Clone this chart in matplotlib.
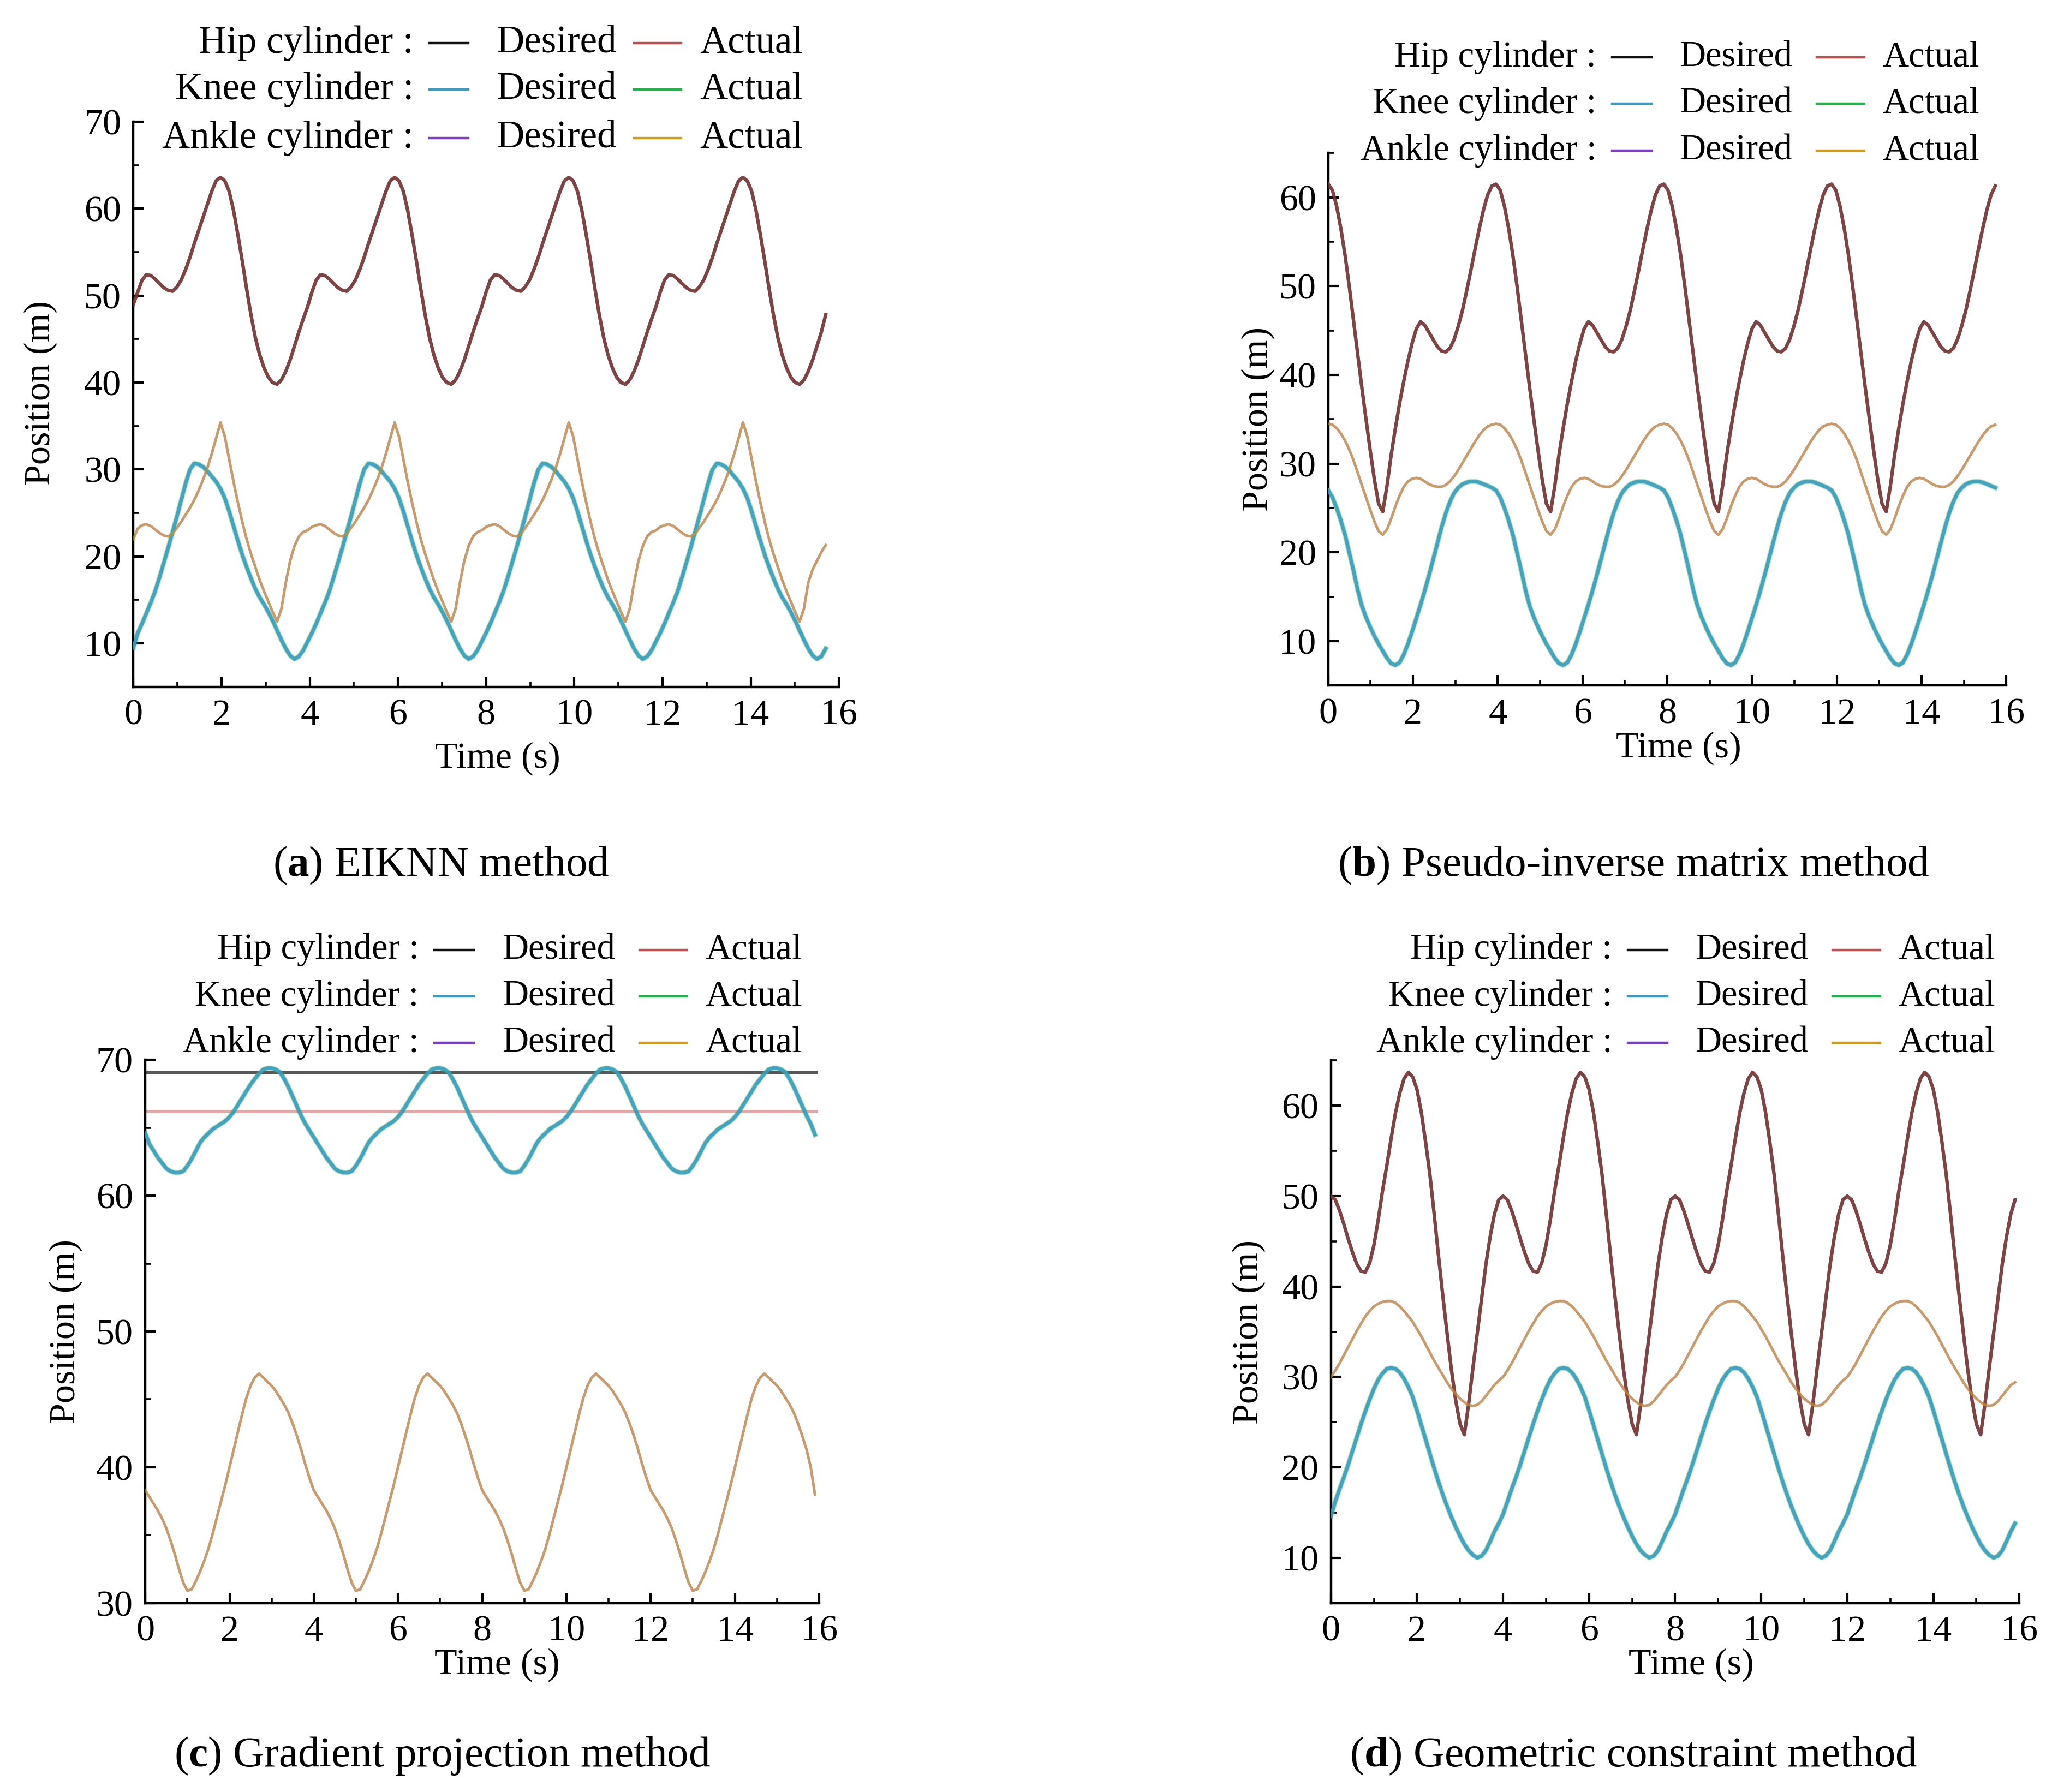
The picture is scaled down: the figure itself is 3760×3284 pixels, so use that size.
import matplotlib.pyplot as plt
import numpy as np
from matplotlib.lines import Line2D

plt.rcParams['font.family'] = 'Liberation Serif'
plt.rcParams['mathtext.fontset'] = 'custom'
plt.rcParams['mathtext.rm'] = 'Liberation Serif'
plt.rcParams['mathtext.bf'] = 'Liberation Serif:bold'

# ---------------- data (positions in m) ----------------
# (a) EIKNN, sampled every 3.95/40 s
hip_a = [49.0, 50.4, 51.8, 52.4, 52.3, 51.9, 51.4, 50.9, 50.6, 50.5, 51.0, 51.8, 53.0, 54.4, 56.0, 57.5, 59.0, 60.5, 62.0, 63.2, 63.6, 63.2, 62.0, 59.8, 57.0, 54.0, 50.8, 47.8, 45.2, 43.2, 41.7, 40.6, 40.0, 39.8, 40.3, 41.3, 42.6, 44.2, 45.8, 47.3,
         48.7, 50.4, 51.8, 52.4, 52.3, 51.9, 51.4, 50.9, 50.6, 50.5, 51.0, 51.8, 53.0, 54.4, 56.0, 57.5, 59.0, 60.5, 62.0, 63.2, 63.6, 63.2, 62.0, 59.8, 57.0, 54.0, 50.8, 47.8, 45.2, 43.2, 41.7, 40.6, 40.0, 39.8, 40.3, 41.3, 42.6, 44.2, 45.8, 47.3,
         48.7, 50.4, 51.8, 52.4, 52.3, 51.9, 51.4, 50.9, 50.6, 50.5, 51.0, 51.8, 53.0, 54.4, 56.0, 57.5, 59.0, 60.5, 62.0, 63.2, 63.6, 63.2, 62.0, 59.8, 57.0, 54.0, 50.8, 47.8, 45.2, 43.2, 41.7, 40.6, 40.0, 39.8, 40.3, 41.3, 42.6, 44.2, 45.8, 47.3,
         48.7, 50.4, 51.8, 52.4, 52.3, 51.9, 51.4, 50.9, 50.6, 50.5, 51.0, 51.8, 53.0, 54.4, 56.0, 57.5, 59.0, 60.5, 62.0, 63.2, 63.6, 63.2, 62.0, 59.8, 57.0, 54.0, 50.8, 47.8, 45.2, 43.2, 41.7, 40.6, 40.0, 39.8, 40.3, 41.3, 42.6, 44.2, 45.8, 47.8]
knee_a = [9.5, 11.2, 12.3, 13.5, 14.7, 16.0, 17.6, 19.3, 21.0, 22.8, 24.6, 26.5, 28.4, 30.0, 30.7, 30.6, 30.3, 29.8, 29.2, 28.6, 27.8, 26.7, 25.2, 23.5, 21.8, 20.2, 18.8, 17.5, 16.3, 15.3, 14.5, 13.6, 12.6, 11.5, 10.4, 9.4, 8.6, 8.2, 8.5, 9.2,
          10.2, 11.2, 12.3, 13.5, 14.7, 16.0, 17.6, 19.3, 21.0, 22.8, 24.6, 26.5, 28.4, 30.0, 30.7, 30.6, 30.3, 29.8, 29.2, 28.6, 27.8, 26.7, 25.2, 23.5, 21.8, 20.2, 18.8, 17.5, 16.3, 15.3, 14.5, 13.6, 12.6, 11.5, 10.4, 9.4, 8.6, 8.2, 8.5, 9.2,
          10.2, 11.2, 12.3, 13.5, 14.7, 16.0, 17.6, 19.3, 21.0, 22.8, 24.6, 26.5, 28.4, 30.0, 30.7, 30.6, 30.3, 29.8, 29.2, 28.6, 27.8, 26.7, 25.2, 23.5, 21.8, 20.2, 18.8, 17.5, 16.3, 15.3, 14.5, 13.6, 12.6, 11.5, 10.4, 9.4, 8.6, 8.2, 8.5, 9.2,
          10.2, 11.2, 12.3, 13.5, 14.7, 16.0, 17.6, 19.3, 21.0, 22.8, 24.6, 26.5, 28.4, 30.0, 30.7, 30.6, 30.3, 29.8, 29.2, 28.6, 27.8, 26.7, 25.2, 23.5, 21.8, 20.2, 18.8, 17.5, 16.3, 15.3, 14.5, 13.6, 12.6, 11.5, 10.4, 9.4, 8.6, 8.2, 8.5, 9.4]
ankle_a = [22.0, 23.2, 23.6, 23.7, 23.5, 23.1, 22.7, 22.4, 22.3, 22.6, 23.3, 24.0, 24.8, 25.6, 26.5, 27.6, 28.8, 30.2, 31.8, 33.6, 35.4, 33.8, 31.2, 28.6, 26.2, 24.0, 22.0, 20.3, 18.8, 17.3, 16.0, 14.8, 13.6, 12.5, 14.0, 17.0, 19.5, 21.2, 22.3, 22.8,
           23.0, 23.4, 23.6, 23.7, 23.5, 23.1, 22.7, 22.4, 22.3, 22.6, 23.3, 24.0, 24.8, 25.6, 26.5, 27.6, 28.8, 30.2, 31.8, 33.6, 35.4, 33.8, 31.2, 28.6, 26.2, 24.0, 22.0, 20.3, 18.8, 17.3, 16.0, 14.8, 13.6, 12.5, 14.0, 17.0, 19.5, 21.2, 22.3, 22.8,
           23.0, 23.4, 23.6, 23.7, 23.5, 23.1, 22.7, 22.4, 22.3, 22.6, 23.3, 24.0, 24.8, 25.6, 26.5, 27.6, 28.8, 30.2, 31.8, 33.6, 35.4, 33.8, 31.2, 28.6, 26.2, 24.0, 22.0, 20.3, 18.8, 17.3, 16.0, 14.8, 13.6, 12.5, 14.0, 17.0, 19.5, 21.2, 22.3, 22.8,
           23.0, 23.4, 23.6, 23.7, 23.5, 23.1, 22.7, 22.4, 22.3, 22.6, 23.3, 24.0, 24.8, 25.6, 26.5, 27.6, 28.8, 30.2, 31.8, 33.6, 35.4, 33.8, 31.2, 28.6, 26.2, 24.0, 22.0, 20.3, 18.8, 17.3, 16.0, 14.8, 13.6, 12.5, 14.0, 17.0, 18.5, 19.5, 20.5, 21.3]

# (b) pseudo-inverse matrix, sampled every 3.96/40 s
hip_b = [61.5, 60.8, 59.0, 56.5, 53.5, 50.0, 46.2, 42.4, 38.6, 35.0, 31.5, 28.2, 25.5, 24.6, 27.5, 31.0, 34.0, 36.8, 39.3, 41.6, 43.6, 45.2, 46.0, 45.6, 44.8, 44.0, 43.2, 42.7, 42.6, 43.0, 44.0, 45.5, 47.3, 49.5, 51.8, 54.2, 56.5, 58.6, 60.3, 61.3,
         61.5, 60.8, 59.0, 56.5, 53.5, 50.0, 46.2, 42.4, 38.6, 35.0, 31.5, 28.2, 25.5, 24.6, 27.5, 31.0, 34.0, 36.8, 39.3, 41.6, 43.6, 45.2, 46.0, 45.6, 44.8, 44.0, 43.2, 42.7, 42.6, 43.0, 44.0, 45.5, 47.3, 49.5, 51.8, 54.2, 56.5, 58.6, 60.3, 61.3,
         61.5, 60.8, 59.0, 56.5, 53.5, 50.0, 46.2, 42.4, 38.6, 35.0, 31.5, 28.2, 25.5, 24.6, 27.5, 31.0, 34.0, 36.8, 39.3, 41.6, 43.6, 45.2, 46.0, 45.6, 44.8, 44.0, 43.2, 42.7, 42.6, 43.0, 44.0, 45.5, 47.3, 49.5, 51.8, 54.2, 56.5, 58.6, 60.3, 61.3,
         61.5, 60.8, 59.0, 56.5, 53.5, 50.0, 46.2, 42.4, 38.6, 35.0, 31.5, 28.2, 25.5, 24.6, 27.5, 31.0, 34.0, 36.8, 39.3, 41.6, 43.6, 45.2, 46.0, 45.6, 44.8, 44.0, 43.2, 42.7, 42.6, 43.0, 44.0, 45.5, 47.3, 49.5, 51.8, 54.2, 56.5, 58.6, 60.3, 61.3]
knee_b = [27.0, 26.2, 25.0, 23.6, 22.0, 20.0, 18.0, 15.8, 14.0, 12.7, 11.6, 10.6, 9.7, 8.9, 8.1, 7.5, 7.3, 7.6, 8.5, 9.7, 11.1, 12.6, 14.1, 15.7, 17.4, 19.2, 21.0, 22.8, 24.4, 25.7, 26.7, 27.3, 27.7, 27.9, 28.0, 28.0, 27.9, 27.7, 27.5, 27.3,
          27.0, 26.2, 25.0, 23.6, 22.0, 20.0, 18.0, 15.8, 14.0, 12.7, 11.6, 10.6, 9.7, 8.9, 8.1, 7.5, 7.3, 7.6, 8.5, 9.7, 11.1, 12.6, 14.1, 15.7, 17.4, 19.2, 21.0, 22.8, 24.4, 25.7, 26.7, 27.3, 27.7, 27.9, 28.0, 28.0, 27.9, 27.7, 27.5, 27.3,
          27.0, 26.2, 25.0, 23.6, 22.0, 20.0, 18.0, 15.8, 14.0, 12.7, 11.6, 10.6, 9.7, 8.9, 8.1, 7.5, 7.3, 7.6, 8.5, 9.7, 11.1, 12.6, 14.1, 15.7, 17.4, 19.2, 21.0, 22.8, 24.4, 25.7, 26.7, 27.3, 27.7, 27.9, 28.0, 28.0, 27.9, 27.7, 27.5, 27.3,
          27.0, 26.2, 25.0, 23.6, 22.0, 20.0, 18.0, 15.8, 14.0, 12.7, 11.6, 10.6, 9.7, 8.9, 8.1, 7.5, 7.3, 7.6, 8.5, 9.7, 11.1, 12.6, 14.1, 15.7, 17.4, 19.2, 21.0, 22.8, 24.4, 25.7, 26.7, 27.3, 27.7, 27.9, 28.0, 28.0, 27.9, 27.7, 27.5, 27.3]
ankle_b = [34.5, 34.4, 34.0, 33.4, 32.6, 31.6, 30.4, 29.0, 27.6, 26.2, 24.8, 23.5, 22.4, 22.0, 22.6, 23.8, 25.2, 26.4, 27.4, 28.0, 28.3, 28.4, 28.3, 28.0, 27.7, 27.5, 27.4, 27.4, 27.6, 28.0, 28.6, 29.3, 30.1, 30.9, 31.7, 32.5, 33.2, 33.8, 34.2, 34.4,
           34.5, 34.4, 34.0, 33.4, 32.6, 31.6, 30.4, 29.0, 27.6, 26.2, 24.8, 23.5, 22.4, 22.0, 22.6, 23.8, 25.2, 26.4, 27.4, 28.0, 28.3, 28.4, 28.3, 28.0, 27.7, 27.5, 27.4, 27.4, 27.6, 28.0, 28.6, 29.3, 30.1, 30.9, 31.7, 32.5, 33.2, 33.8, 34.2, 34.4,
           34.5, 34.4, 34.0, 33.4, 32.6, 31.6, 30.4, 29.0, 27.6, 26.2, 24.8, 23.5, 22.4, 22.0, 22.6, 23.8, 25.2, 26.4, 27.4, 28.0, 28.3, 28.4, 28.3, 28.0, 27.7, 27.5, 27.4, 27.4, 27.6, 28.0, 28.6, 29.3, 30.1, 30.9, 31.7, 32.5, 33.2, 33.8, 34.2, 34.4,
           34.5, 34.4, 34.0, 33.4, 32.6, 31.6, 30.4, 29.0, 27.6, 26.2, 24.8, 23.5, 22.4, 22.0, 22.6, 23.8, 25.2, 26.4, 27.4, 28.0, 28.3, 28.4, 28.3, 28.0, 27.7, 27.5, 27.4, 27.4, 27.6, 28.0, 28.6, 29.3, 30.1, 30.9, 31.7, 32.5, 33.2, 33.8, 34.2, 34.4]

# (c) gradient projection, sampled every 0.1 s
hip_c_desired = [69.1, 69.1]
hip_c_actual = [66.25, 66.25]
hip_c_time = [0.0, 15.93]
knee_c = [64.6, 63.8, 63.3, 62.8, 62.4, 62.0, 61.8, 61.7, 61.7, 61.8, 62.2, 62.7, 63.3, 63.9, 64.3, 64.6, 64.9, 65.1, 65.3, 65.5, 65.8, 66.2, 66.7, 67.2, 67.7, 68.2, 68.6, 69.0, 69.3, 69.4, 69.4, 69.3, 69.1, 68.6, 68.0, 67.3, 66.6, 65.9, 65.3, 64.8,
          64.3, 63.8, 63.3, 62.8, 62.4, 62.0, 61.8, 61.7, 61.7, 61.8, 62.2, 62.7, 63.3, 63.9, 64.3, 64.6, 64.9, 65.1, 65.3, 65.5, 65.8, 66.2, 66.7, 67.2, 67.7, 68.2, 68.6, 69.0, 69.3, 69.4, 69.4, 69.3, 69.1, 68.6, 68.0, 67.3, 66.6, 65.9, 65.3, 64.8,
          64.3, 63.8, 63.3, 62.8, 62.4, 62.0, 61.8, 61.7, 61.7, 61.8, 62.2, 62.7, 63.3, 63.9, 64.3, 64.6, 64.9, 65.1, 65.3, 65.5, 65.8, 66.2, 66.7, 67.2, 67.7, 68.2, 68.6, 69.0, 69.3, 69.4, 69.4, 69.3, 69.1, 68.6, 68.0, 67.3, 66.6, 65.9, 65.3, 64.8,
          64.3, 63.8, 63.3, 62.8, 62.4, 62.0, 61.8, 61.7, 61.7, 61.8, 62.2, 62.7, 63.3, 63.9, 64.3, 64.6, 64.9, 65.1, 65.3, 65.5, 65.8, 66.2, 66.7, 67.2, 67.7, 68.2, 68.6, 69.0, 69.3, 69.4, 69.4, 69.3, 69.1, 68.6, 68.0, 67.3, 66.6, 65.9, 65.3, 64.5]
ankle_c = [38.3, 37.8, 37.3, 36.8, 36.2, 35.5, 34.6, 33.6, 32.5, 31.5, 30.9, 31.0, 31.6, 32.3, 33.1, 34.0, 35.1, 36.3, 37.5, 38.7, 40.0, 41.3, 42.6, 43.9, 45.1, 46.0, 46.6, 46.9, 46.6, 46.3, 46.0, 45.6, 45.1, 44.6, 44.0, 43.2, 42.3, 41.3, 40.2, 39.2,
           38.3, 37.8, 37.3, 36.8, 36.2, 35.5, 34.6, 33.6, 32.5, 31.5, 30.9, 31.0, 31.6, 32.3, 33.1, 34.0, 35.1, 36.3, 37.5, 38.7, 40.0, 41.3, 42.6, 43.9, 45.1, 46.0, 46.6, 46.9, 46.6, 46.3, 46.0, 45.6, 45.1, 44.6, 44.0, 43.2, 42.3, 41.3, 40.2, 39.2,
           38.3, 37.8, 37.3, 36.8, 36.2, 35.5, 34.6, 33.6, 32.5, 31.5, 30.9, 31.0, 31.6, 32.3, 33.1, 34.0, 35.1, 36.3, 37.5, 38.7, 40.0, 41.3, 42.6, 43.9, 45.1, 46.0, 46.6, 46.9, 46.6, 46.3, 46.0, 45.6, 45.1, 44.6, 44.0, 43.2, 42.3, 41.3, 40.2, 39.2,
           38.3, 37.8, 37.3, 36.8, 36.2, 35.5, 34.6, 33.6, 32.5, 31.5, 30.9, 31.0, 31.6, 32.3, 33.1, 34.0, 35.1, 36.3, 37.5, 38.7, 40.0, 41.3, 42.6, 43.9, 45.1, 46.0, 46.6, 46.9, 46.6, 46.3, 46.0, 45.6, 45.1, 44.6, 44.0, 43.2, 42.3, 41.3, 40.0, 38.0]

# (d) geometric constraint, sampled every 0.1 s
hip_d = [50.0, 49.6, 48.4, 46.9, 45.3, 43.8, 42.5, 41.7, 41.6, 42.6, 44.6, 47.4, 50.6, 53.4, 56.4, 59.2, 61.4, 63.0, 63.7, 63.2, 61.8, 59.3, 56.0, 52.4, 48.0, 43.4, 39.0, 34.8, 30.8, 27.4, 24.8, 23.6, 27.0, 31.0, 34.8, 38.6, 42.4, 45.5, 48.0, 49.6,
         50.0, 49.6, 48.4, 46.9, 45.3, 43.8, 42.5, 41.7, 41.6, 42.6, 44.6, 47.4, 50.6, 53.4, 56.4, 59.2, 61.4, 63.0, 63.7, 63.2, 61.8, 59.3, 56.0, 52.4, 48.0, 43.4, 39.0, 34.8, 30.8, 27.4, 24.8, 23.6, 27.0, 31.0, 34.8, 38.6, 42.4, 45.5, 48.0, 49.6,
         50.0, 49.6, 48.4, 46.9, 45.3, 43.8, 42.5, 41.7, 41.6, 42.6, 44.6, 47.4, 50.6, 53.4, 56.4, 59.2, 61.4, 63.0, 63.7, 63.2, 61.8, 59.3, 56.0, 52.4, 48.0, 43.4, 39.0, 34.8, 30.8, 27.4, 24.8, 23.6, 27.0, 31.0, 34.8, 38.6, 42.4, 45.5, 48.0, 49.6,
         50.0, 49.6, 48.4, 46.9, 45.3, 43.8, 42.5, 41.7, 41.6, 42.6, 44.6, 47.4, 50.6, 53.4, 56.4, 59.2, 61.4, 63.0, 63.7, 63.2, 61.8, 59.3, 56.0, 52.4, 48.0, 43.4, 39.0, 34.8, 30.8, 27.4, 24.8, 23.6, 27.0, 31.0, 34.8, 38.6, 42.4, 45.5, 48.0, 49.6]
knee_d = [14.6, 16.2, 17.6, 18.9, 20.3, 21.8, 23.3, 24.8, 26.2, 27.5, 28.7, 29.7, 30.4, 30.9, 31.0, 30.9, 30.5, 29.8, 28.9, 27.8, 26.3, 24.7, 23.1, 21.5, 19.9, 18.4, 17.0, 15.7, 14.5, 13.4, 12.4, 11.5, 10.8, 10.3, 10.0, 10.2, 10.8, 11.8, 12.9, 13.8,
          14.8, 16.2, 17.6, 18.9, 20.3, 21.8, 23.3, 24.8, 26.2, 27.5, 28.7, 29.7, 30.4, 30.9, 31.0, 30.9, 30.5, 29.8, 28.9, 27.8, 26.3, 24.7, 23.1, 21.5, 19.9, 18.4, 17.0, 15.7, 14.5, 13.4, 12.4, 11.5, 10.8, 10.3, 10.0, 10.2, 10.8, 11.8, 12.9, 13.8,
          14.8, 16.2, 17.6, 18.9, 20.3, 21.8, 23.3, 24.8, 26.2, 27.5, 28.7, 29.7, 30.4, 30.9, 31.0, 30.9, 30.5, 29.8, 28.9, 27.8, 26.3, 24.7, 23.1, 21.5, 19.9, 18.4, 17.0, 15.7, 14.5, 13.4, 12.4, 11.5, 10.8, 10.3, 10.0, 10.2, 10.8, 11.8, 12.9, 13.8,
          14.8, 16.2, 17.6, 18.9, 20.3, 21.8, 23.3, 24.8, 26.2, 27.5, 28.7, 29.7, 30.4, 30.9, 31.0, 30.9, 30.5, 29.8, 28.9, 27.8, 26.3, 24.7, 23.1, 21.5, 19.9, 18.4, 17.0, 15.7, 14.5, 13.4, 12.4, 11.5, 10.8, 10.3, 10.0, 10.2, 10.8, 11.8, 12.9, 13.8]
ankle_d = [30.0, 30.7, 31.5, 32.4, 33.3, 34.2, 35.1, 35.9, 36.7, 37.3, 37.8, 38.1, 38.3, 38.4, 38.4, 38.2, 37.8, 37.3, 36.7, 36.1, 35.3, 34.5, 33.6, 32.7, 31.8, 31.0, 30.2, 29.4, 28.7, 28.1, 27.6, 27.2, 26.9, 26.8, 26.9, 27.3, 27.9, 28.5, 29.1, 29.6,
           30.0, 30.7, 31.5, 32.4, 33.3, 34.2, 35.1, 35.9, 36.7, 37.3, 37.8, 38.1, 38.3, 38.4, 38.4, 38.2, 37.8, 37.3, 36.7, 36.1, 35.3, 34.5, 33.6, 32.7, 31.8, 31.0, 30.2, 29.4, 28.7, 28.1, 27.6, 27.2, 26.9, 26.8, 26.9, 27.3, 27.9, 28.5, 29.1, 29.6,
           30.0, 30.7, 31.5, 32.4, 33.3, 34.2, 35.1, 35.9, 36.7, 37.3, 37.8, 38.1, 38.3, 38.4, 38.4, 38.2, 37.8, 37.3, 36.7, 36.1, 35.3, 34.5, 33.6, 32.7, 31.8, 31.0, 30.2, 29.4, 28.7, 28.1, 27.6, 27.2, 26.9, 26.8, 26.9, 27.3, 27.9, 28.5, 29.1, 29.6,
           30.0, 30.7, 31.5, 32.4, 33.3, 34.2, 35.1, 35.9, 36.7, 37.3, 37.8, 38.1, 38.3, 38.4, 38.4, 38.2, 37.8, 37.3, 36.7, 36.1, 35.3, 34.5, 33.6, 32.7, 31.8, 31.0, 30.2, 29.4, 28.7, 28.1, 27.6, 27.2, 26.9, 26.8, 26.9, 27.3, 27.9, 28.5, 29.1, 29.4]

sample_step = {'a': 3.95 / 40, 'b': 3.96 / 40, 'c': 0.1, 'd': 0.1}

cylinders = ['Hip cylinder', 'Knee cylinder', 'Ankle cylinder']
desired_colors = ['#111111', '#3a9cc2', '#7d3cc8']
actual_colors = ['#c0504d', '#1fb34c', '#d39b17']
captions = {'a': 'EIKNN method', 'b': 'Pseudo-inverse matrix method',
            'c': 'Gradient projection method', 'd': 'Geometric constraint method'}

FS = 24.5

fig = plt.figure(figsize=(18.8, 16.42), dpi=200)


def style_axes(ax, ylim, yticks):
    ax.set_xlim(0, 16)
    ax.set_ylim(*ylim)
    ax.set_xticks(np.arange(0, 17, 2))
    ax.set_xticks(np.arange(0, 17, 1), minor=True)
    ax.set_yticks(yticks)
    ax.set_yticks(np.arange(ylim[0], ylim[1] + 0.1, 5), minor=True)
    for s in ['top', 'right']:
        ax.spines[s].set_visible(False)
    for s in ['left', 'bottom']:
        ax.spines[s].set_linewidth(1.6)
    ax.tick_params(which='major', direction='in', length=7, width=1.5,
                   labelsize=FS, pad=8)
    ax.tick_params(which='minor', direction='in', length=3.5, width=1.3)
    ax.set_xlabel('Time (s)', fontsize=FS)
    ax.set_ylabel('Position (m)', fontsize=FS)


# how the desired and actual traces blend for each cylinder
blend = [  # (desired lw, desired alpha, actual lw, actual alpha, actual on top)
    (2.2, 0.85, 2.2, 0.55, True),
    (2.4, 0.9, 3.4, 0.35, False),
    (1.7, 0.5, 1.7, 0.6, True),
]


def draw_series(ax, t, values, k):
    dlw, dal, alw, aal, act_top = blend[k]
    zd, za = (2, 3) if act_top else (3, 2)
    ax.plot(t, values, color=desired_colors[k], lw=dlw, alpha=dal, zorder=zd,
            solid_joinstyle='round')
    ax.plot(t, values, color=actual_colors[k], lw=alw, alpha=aal, zorder=za,
            solid_joinstyle='round')


def add_legend(x_right, rows_y, fs):
    for k, y in enumerate(rows_y):
        fig.text(x_right, y, cylinders[k] + ' :', ha='right', va='center',
                 fontsize=fs)
        fig.add_artist(Line2D([x_right + 0.0077, x_right + 0.0268], [y, y],
                              color=desired_colors[k], lw=1.6,
                              transform=fig.transFigure))
        fig.text(x_right + 0.0405, y, 'Desired', ha='left', va='center',
                 fontsize=fs)
        fig.add_artist(Line2D([x_right + 0.1075, x_right + 0.1305], [y, y],
                              color=actual_colors[k], lw=1.6,
                              transform=fig.transFigure))
        fig.text(x_right + 0.1395, y, 'Actual', ha='left', va='center',
                 fontsize=fs)


# panel a
ax = fig.add_axes([0.065, 0.6167, 0.3438, 0.3154])
draw_series(ax, np.arange(len(hip_a)) * sample_step['a'], hip_a, 0)
draw_series(ax, np.arange(len(knee_a)) * sample_step['a'], knee_a, 1)
draw_series(ax, np.arange(len(ankle_a)) * sample_step['a'], ankle_a, 2)
style_axes(ax, (5, 70), np.arange(10, 71, 10))
ax.yaxis.set_label_coords(-0.108, 0.52)
ax.xaxis.set_label_coords(0.516, -0.097)
add_legend(0.2015, [0.976, 0.950, 0.923], 25.5)

# panel b
ax = fig.add_axes([0.6473, 0.6174, 0.3304, 0.2972])
draw_series(ax, np.arange(len(hip_b)) * sample_step['b'], hip_b, 0)
draw_series(ax, np.arange(len(knee_b)) * sample_step['b'], knee_b, 1)
draw_series(ax, np.arange(len(ankle_b)) * sample_step['b'], ankle_b, 2)
style_axes(ax, (5, 65), np.arange(10, 61, 10))
ax.yaxis.set_label_coords(-0.079, 0.5)
ax.xaxis.set_label_coords(0.517, -0.086)
add_legend(0.778, [0.968, 0.942, 0.916], 24)

# panel c
ax = fig.add_axes([0.0708, 0.1055, 0.3284, 0.3030])
ax.plot(hip_c_time, hip_c_desired, color=desired_colors[0], lw=1.8, alpha=0.7)
ax.plot(hip_c_time, hip_c_actual, color=actual_colors[0], lw=1.8, alpha=0.5)
draw_series(ax, np.arange(len(knee_c)) * sample_step['c'], knee_c, 1)
draw_series(ax, np.arange(len(ankle_c)) * sample_step['c'], ankle_c, 2)
style_axes(ax, (30, 70), np.arange(30, 71, 10))
ax.yaxis.set_label_coords(-0.093, 0.5)
ax.xaxis.set_label_coords(0.522, -0.083)
add_legend(0.2041, [0.470, 0.444, 0.418], 24)

# panel d
ax = fig.add_axes([0.6486, 0.1055, 0.3355, 0.3027])
draw_series(ax, np.arange(len(hip_d)) * sample_step['d'], hip_d, 0)
draw_series(ax, np.arange(len(knee_d)) * sample_step['d'], knee_d, 1)
draw_series(ax, np.arange(len(ankle_d)) * sample_step['d'], ankle_d, 2)
style_axes(ax, (5, 65), np.arange(10, 61, 10))
ax.yaxis.set_label_coords(-0.095, 0.5)
ax.xaxis.set_label_coords(0.523, -0.083)
add_legend(0.7857, [0.470, 0.444, 0.418], 24)

# sub-captions
for key, (x, y) in zip('abcd', [(0.215, 0.517), (0.796, 0.517),
                                (0.2156, 0.020), (0.796, 0.020)]):
    fig.text(x, y, r'($\mathbf{%s}$) %s' % (key, captions[key]),
             ha='center', va='center', fontsize=28.5)

fig.savefig('out.png', dpi=200, facecolor='white')
